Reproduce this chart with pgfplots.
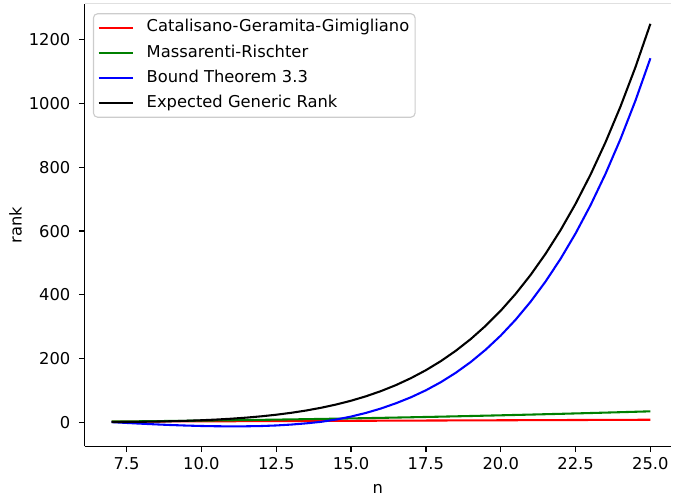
\documentclass[border=0pt]{standalone}
\usepackage{fontspec}
\setmainfont{DejaVu Sans}
\usepackage{pgfplots}
\pgfplotsset{compat=1.18}
\usepackage{pgfplotstable}

% n, expected generic rank, bound of Theorem 3.3
\pgfplotstableread{
n     egr     thm
7     0.88    0.88
7.5   1.31   -1.69
8     1.89   -4.11
8.5   2.67   -6.33
9     3.70   -8.30
9.5   5.03   -9.97
10    6.74  -11.26
10.5  8.90  -12.10
11    11.60 -12.40
11.5  14.95 -12.20
12    19.06 -11.40
12.5  24.05  -9.60
13    30.07  -6.80
13.5  37.29  -3.00
14    45.88   1.80
14.5  56.04   9.00
15    67.97  18.30
15.5  81.95  29.80
16    98.21  43.60
16.5  117.0  60.03
17    138.8  78.75
17.5  163.7  100.7
18    192.2  126.2
18.5  224.7  155.7
19    261.5  189.5
19.5  303.3  228.3
20    350.3  272.3
20.5  403.3  322.3
21    462.7  378.7
21.5  529.1  442.1
22    603.2  513.2
22.5  685.6  592.6
23    777.1  681.1
23.5  878.5  779.5
24    990.5  888.5
24.5  1114.0 1009.0
25    1250.0 1142.0
}\rankdata

% n, Catalisano-Geramita-Gimigliano, Massarenti-Rischter
\pgfplotstableread{
n   cgg    mr
7   2.333  2.722
8   2.667  3.556
9   3.000  4.500
10  3.333  5.556
11  3.667  6.722
12  4.000  8.000
13  4.333  9.389
14  4.667  10.889
15  5.000  12.500
16  5.333  14.222
17  5.667  16.056
18  6.000  18.000
19  6.333  20.056
20  6.667  22.222
21  7.000  24.500
22  7.333  26.889
23  7.667  29.389
24  8.000  32.000
25  8.333  34.722
}\bounddata

\definecolor{mplgreen}{RGB}{0,128,0}

\begin{document}
\fontsize{11.8}{14.2}\selectfont
\begin{tikzpicture}
\begin{axis}[
    scale only axis,
    width=424pt, height=320pt,
    xmin=6.1, xmax=25.69,
    ymin=-75, ymax=1313,
    axis x line*=bottom,
    axis y line*=left,
    axis line style={line width=0.9pt, -},
    tick align=outside,
    major tick length=4.2pt,
    every tick/.style={black, line width=0.9pt},
    xtick={7.5,10,12.5,15,17.5,20,22.5,25},
    ytick={0,200,400,600,800,1000,1200},
    xticklabel style={/pgf/number format/.cd, fixed, fixed zerofill, precision=1},
    yticklabel style={xshift=-2pt, /pgf/number format/.cd, fixed, 1000 sep={}},
    /pgf/number format/assume math mode=true,
    xlabel={n},
    ylabel={rank},
    xlabel style={at={(axis description cs:0.5,-0.096)}, anchor=center},
    ylabel style={at={(axis description cs:-0.118,0.5)}, anchor=center},
    legend cell align=left,
    legend image code/.code={\draw[#1, line width=1.5pt] (0pt,0pt) -- (25pt,0pt);},
    legend style={
        at={(axis description cs:0.0141,0.9786)}, anchor=north west,
        draw=black!20, line width=0.8pt, rounded corners=3pt, fill=white,
        inner xsep=3pt, inner ysep=2.6pt, row sep=3.2pt,
        nodes={inner xsep=1.2pt, inner ysep=1.5pt, text height=9pt, text depth=3pt},
        /tikz/every odd column/.append style={column sep=7.8pt},
    },
]
\draw[black!12, line width=0.6pt] (rel axis cs:0,1) -- (rel axis cs:1,1);
\addplot[red, line width=1.5pt] table[x=n, y=cgg] {\bounddata};
\addlegendentry{Catalisano-Geramita-Gimigliano}
\addplot[mplgreen, line width=1.5pt] table[x=n, y=mr] {\bounddata};
\addlegendentry{Massarenti-Rischter}
\addplot[blue, line width=1.5pt] table[x=n, y=thm] {\rankdata};
\addlegendentry{Bound Theorem 3.3}
\addplot[black, line width=1.5pt] table[x=n, y=egr] {\rankdata};
\addlegendentry{Expected Generic Rank}
\end{axis}
\path (current axis.south west) +(-61.2pt,-37.4pt);
\path (current axis.north east) +(0pt,2.7pt);
\end{tikzpicture}
\end{document}
